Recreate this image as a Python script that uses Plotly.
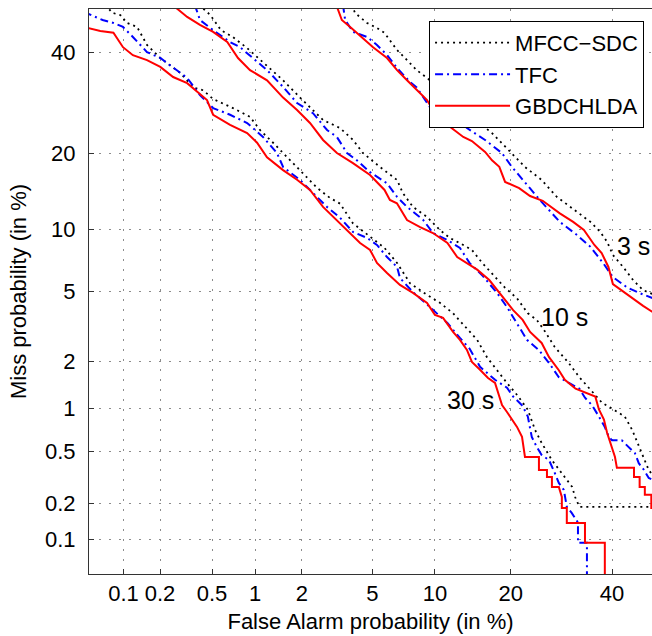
import plotly.graph_objects as go
from statistics import NormalDist

# DET curves, values in percent
tick_vals = [0.1, 0.2, 0.5, 1, 2, 5, 10, 20, 40]
tick_text = ["0.1", "0.2", "0.5", "1", "2", "5", "10", "20", "40"]

# 3 s
mfcc_3_fa = [3.89, 4.04, 4.69, 5.28, 5.77, 6.66, 7.44, 8.26, 9.22, 11.33, 13.4, 14.3, 17.1, 19.7, 22.4,
             25.4, 28.3, 31.6, 35.25, 37.4, 38.9, 40.2, 42.5, 44.8, 47.1, 50]
mfcc_3_miss = [51, 49.1, 46.76, 45.6, 44.45, 40.55, 38.3, 36.1, 34.4, 30.83, 27.25, 26.5, 23.5, 20.6, 17.88,
               15.97, 13.7, 12.2, 10.75, 9.70, 8.76, 7.6, 6.65, 5.72, 5.08, 4.77]
tfc_3_fa = [3.47, 3.57, 3.94, 4.69, 5.28, 5.94, 6.66, 7.70, 8.26, 9.50, 11.6, 13.66, 16.1, 18.6, 20.2,
            22.4, 25.2, 28.9, 32.4, 35.25, 38.0, 40.2, 43.4, 46.3, 50]
tfc_3_miss = [51, 47.45, 44.7, 43.53, 41.7, 39.44, 36.56, 33.5, 32.4, 28.4, 27.43, 24.4, 22.28, 20.08, 17.88,
              15.6, 13.2, 10.75, 9.4, 8.3, 6.96, 5.92, 5.25, 4.9, 4.55]
gbd_3_fa = [3.18, 3.42, 3.86, 4.46, 5.04, 5.94, 6.66, 7.44, 8.26, 9.22, 10.2, 11.6, 13.2, 14.3, 16.1, 17.1,
            18.2, 19.1, 21.4, 23.3, 25.6, 28.9, 31.6, 33.85, 36.1, 37.7, 39.2, 40.2, 42.5, 44.8, 47.1, 50]
gbd_3_miss = [51, 47.45, 45.6, 43.3, 41.2, 38.77, 36.1, 33.9, 31.8, 29.8, 26.5, 24.6, 22.8, 22.1, 20.25, 18.9,
              17.9, 15.7, 14.85, 13.8, 13.2, 11.7, 10.75, 9.9, 8.47, 7.76, 6.65, 5.46, 5.0, 4.6, 4.19, 3.79]

# 10 s
mfcc_10_fa = [0.40, 0.485, 0.58, 0.705, 0.884, 1.032, 1.201, 1.525, 1.946, 2.331, 2.672, 3.343, 3.94, 4.46,
              5.47, 6.66, 7.1, 7.94, 9.22, 10.52, 11.6, 13.2, 14.3, 15.7, 17.55, 19.1, 21.04, 22.9, 24.5,
              25.9, 27.9, 30.7, 32.9, 35.0, 37.8, 40.67, 42.9, 44.6, 46.2, 47.3, 48.4, 50]
mfcc_10_miss = [51, 48.6, 45.1, 43.5, 41.0, 38.99, 37.2, 33.9, 30.3, 27.8, 25.9, 24.4, 22.3, 20.08,
                17.88, 15.97, 14.2, 12.45, 11.3, 9.9, 9.12, 8.47, 8.03, 6.96, 5.94, 5.22, 4.60, 3.82, 3.51,
                3.06, 2.45, 1.96, 1.60, 1.35, 1.09, 0.97, 0.88, 0.71, 0.537, 0.454, 0.363, 0.31]
tfc_10_fa = [0.372, 0.407, 0.509, 0.673, 0.79, 0.97, 1.201, 1.525, 1.866, 2.331, 2.82, 3.21, 3.655, 4.14,
             4.86, 5.94, 6.66, 7.44, 8.83, 9.80, 11.33, 12.79, 13.99, 15.8, 17.85, 19.4, 21.04, 22.75,
             24.9, 26.8, 28.7, 30.7, 32.9, 34.08, 35.6, 37.1, 38.4, 39.3, 40.0, 42.2, 43.8, 45.2, 46.1,
             47.3, 48.4, 50]
tfc_10_miss = [51, 47.45, 45.1, 42.37, 41.2, 38.77, 36.1, 32.5, 29.2, 27.2, 24.05, 22.8, 20.08, 18.9,
               17.1, 15.5, 13.7, 12.45, 11.0, 9.6, 8.93, 8.2, 6.96, 5.99, 4.91, 4.13, 3.37, 2.70,
               2.35, 1.96, 1.60, 1.47, 1.35, 1.18, 1.05, 0.88, 0.745, 0.635, 0.60, 0.60, 0.537, 0.485, 0.408,
               0.363, 0.315, 0.30]
gbd_10_fa = [0.25, 0.326, 0.407, 0.509, 0.643, 0.765, 0.925, 1.201, 1.525, 1.866, 2.236, 2.672, 3.21, 3.94,
             4.86, 5.77, 6.14, 6.65, 7.44, 8.57, 9.80, 11.33, 12.46, 14.0, 15.0, 16.7, 18.8, 20.4, 22.0,
             23.3, 25.4, 26.8, 28.7, 29.9, 32.1, 34.08, 36.3, 37.1, 38.2, 38.9, 40.0, 40.67, 41.1,
             45.0, 45.0, 46.3, 46.3, 47.5, 47.5, 49.0, 49.0, 55]
gbd_10_miss = [51, 48.15, 46.3, 44.7, 42.37, 38.77, 36.1, 33.9, 30.3, 27.8, 25.35, 22.28, 20.08, 18.48,
               16.68, 14.6, 13.3, 12.9, 10.95, 10.2, 9.6, 8.65, 7.43, 6.82, 6.45, 5.72, 4.64, 3.97, 3.51,
               3.0, 2.59, 2.13, 1.77, 1.54, 1.35, 1.27, 1.20, 0.985, 0.84, 0.68, 0.537, 0.454, 0.377,
               0.377, 0.321, 0.321, 0.269, 0.269, 0.233, 0.233, 0.183, 0.183]

# 30 s
mfcc_30_fa = [0.070, 0.080, 0.094, 0.107, 0.130, 0.157, 0.201, 0.288, 0.362, 0.430, 0.509, 0.705, 0.925,
              1.079, 1.316, 1.525, 1.946, 2.46, 2.93, 3.343, 3.94, 4.86, 5.77, 6.66, 7.70, 9.22, 10.52,
              11.97, 13.66, 15.0, 16.36, 17.85, 19.4, 21.2, 22.9, 24.2, 25.4, 27.35, 29.9, 31.4, 32.0,
              32.9, 60]
mfcc_30_miss = [51, 49.1, 48.6, 46.76, 45.84, 41.7, 38.77, 35.5, 32.4, 31.8, 30.0, 28.2, 26.5,
                24.05, 21.8, 20.08, 17.4, 14.9, 13.56, 12.85, 10.6, 9.22, 8.2, 6.96, 5.50, 4.80, 4.35,
                3.82, 3.15, 2.70, 2.13, 1.77, 1.47, 1.21, 0.98, 0.71, 0.575, 0.43, 0.321, 0.269, 0.224,
                0.187, 0.187]
tfc_30_fa = [0.045, 0.066, 0.082, 0.099, 0.120, 0.157, 0.201, 0.254, 0.326, 0.407, 0.509, 0.673, 0.884,
             1.131, 1.394, 1.525, 1.946, 2.331, 2.819, 3.343, 3.94, 4.69, 5.28, 5.94, 6.66, 6.88, 7.94,
             9.50, 11.33, 12.79, 13.99, 15.39, 17.55, 19.4, 20.4, 22.0, 22.9, 23.6, 24.5, 25.4, 26.8,
             27.9, 28.7, 29.7, 30.3, 31.3, 32.6, 32.6, 34.5, 34.5]
tfc_30_miss = [49.3, 47.45, 46.76, 45.84, 43.53, 40.1, 38.77, 36.56, 34.4, 30.83, 28.2, 26.9, 25.34,
               22.8, 20.08, 17.88, 15.97, 14.2, 12.45, 11.2, 9.70, 9.12, 8.47, 7.43, 6.65, 5.86, 4.96,
               4.13, 3.37, 2.77, 2.40, 1.86, 1.54, 1.37, 1.20, 1.04, 0.88, 0.635, 0.537, 0.47, 0.43,
               0.345, 0.289, 0.255, 0.187, 0.167, 0.139, 0.094, 0.094, 0.03]
gbd_30_fa = [0.045, 0.063, 0.082, 0.099, 0.120, 0.157, 0.201, 0.254, 0.326, 0.387, 0.459, 0.509, 0.673,
             0.884, 1.032, 1.201, 1.525, 1.866, 2.236, 2.672, 3.05, 3.655, 4.305, 4.86, 5.28, 5.94, 6.88,
             7.94, 9.22, 10.0, 10.85, 11.97, 12.79, 13.66, 14.3, 15.39, 16.52, 17.55, 18.0, 18.62, 19.4,
             21.04, 21.89,
             22.4, 24.9, 24.9, 26.4, 26.4, 27.35, 27.35, 28.7, 29.3, 29.3, 30.3, 30.3, 34.08, 34.08,
             38.4, 38.4]
gbd_30_miss = [45.8, 44.9, 44.5, 41.2, 39.4, 38.3, 36.8, 34.6, 33.3, 31.5, 29.8, 26.9, 25.0,
               23.5, 21.8, 19.4, 17.4, 16.0, 14.6, 12.45, 11.3, 9.9, 8.65, 8.03, 6.96, 6.21, 5.40,
               4.91, 4.35, 3.74, 3.60, 3.00, 2.70, 2.354, 1.99, 1.78, 1.58, 1.47, 1.267, 1.055, 0.946,
               0.747, 0.635,
               0.454, 0.454, 0.363, 0.363, 0.321, 0.321, 0.269, 0.269, 0.224, 0.183, 0.183, 0.138, 0.138,
               0.094, 0.094, 0.03]

nd = NormalDist()


def probit(vals):
    return [nd.inv_cdf(v / 100.0) for v in vals]


font = "Liberation Sans, Arial, Helvetica, sans-serif"

systems = [
    ("MFCC\u2212SDC", dict(color="black", width=1.8, dash="2px,4px"),
     [(mfcc_3_fa, mfcc_3_miss), (mfcc_10_fa, mfcc_10_miss), (mfcc_30_fa, mfcc_30_miss)]),
    ("TFC", dict(color="#0000ff", width=2, dash="8px,4px,2px,4px"),
     [(tfc_3_fa, tfc_3_miss), (tfc_10_fa, tfc_10_miss), (tfc_30_fa, tfc_30_miss)]),
    ("GBDCHLDA", dict(color="#ff0000", width=2),
     [(gbd_3_fa, gbd_3_miss), (gbd_10_fa, gbd_10_miss), (gbd_30_fa, gbd_30_miss)]),
]

fig = go.Figure()
for name, line, curves in systems:
    for i, (fa, miss) in enumerate(curves):
        fig.add_trace(go.Scatter(x=probit(fa), y=probit(miss), mode="lines", name=name,
                                 legendgroup=name, showlegend=(i == 0), line=line))

# duration labels
for txt, fa, miss in [("3 s", 45.0, 8.4), ("10 s", 29.9, 3.64), ("30 s", 14.06, 1.14)]:
    fig.add_annotation(x=nd.inv_cdf(fa / 100), y=nd.inv_cdf(miss / 100), text=txt, showarrow=False,
                       font=dict(family=font, size=25, color="black"))

axis_common = dict(
    tickvals=probit(tick_vals), ticktext=tick_text, ticks="inside", ticklen=5, tickcolor="#333",
    showline=True, linecolor="#333", linewidth=1, showgrid=True, gridcolor="#8c8c8c", gridwidth=1,
    griddash="2px,8px", zeroline=False, tickfont=dict(family=font, size=22, color="black"),
    automargin=False,
)

fig.update_layout(
    width=652, height=636,
    margin=dict(l=89, r=0, t=9, b=62),
    paper_bgcolor="white", plot_bgcolor="white",
    font=dict(family=font, color="black"),
    xaxis=dict(range=[nd.inv_cdf(0.0005), nd.inv_cdf(0.4916)], mirror=True, ticklabelstandoff=0,
               title=dict(text="False Alarm probability (in %)", font=dict(family=font, size=22),
                          standoff=8),
               **axis_common),
    yaxis=dict(range=[nd.inv_cdf(0.0005), 0.0], mirror=False, ticklabelstandoff=8,
               title=dict(text="Miss probability (in %)", font=dict(family=font, size=22),
                          standoff=12),
               **axis_common),
    legend=dict(x=0.604, y=0.979, xanchor="left", yanchor="top", bgcolor="white",
                bordercolor="black", borderwidth=1, font=dict(family=font, size=22, color="black"),
                itemwidth=75, tracegroupgap=0),
    showlegend=True,
)

# drop the default page margin so the figure fills the window exactly
fig.write_html("out.html", config={"displayModeBar": False},
               post_script="document.body.style.margin = '0';")
